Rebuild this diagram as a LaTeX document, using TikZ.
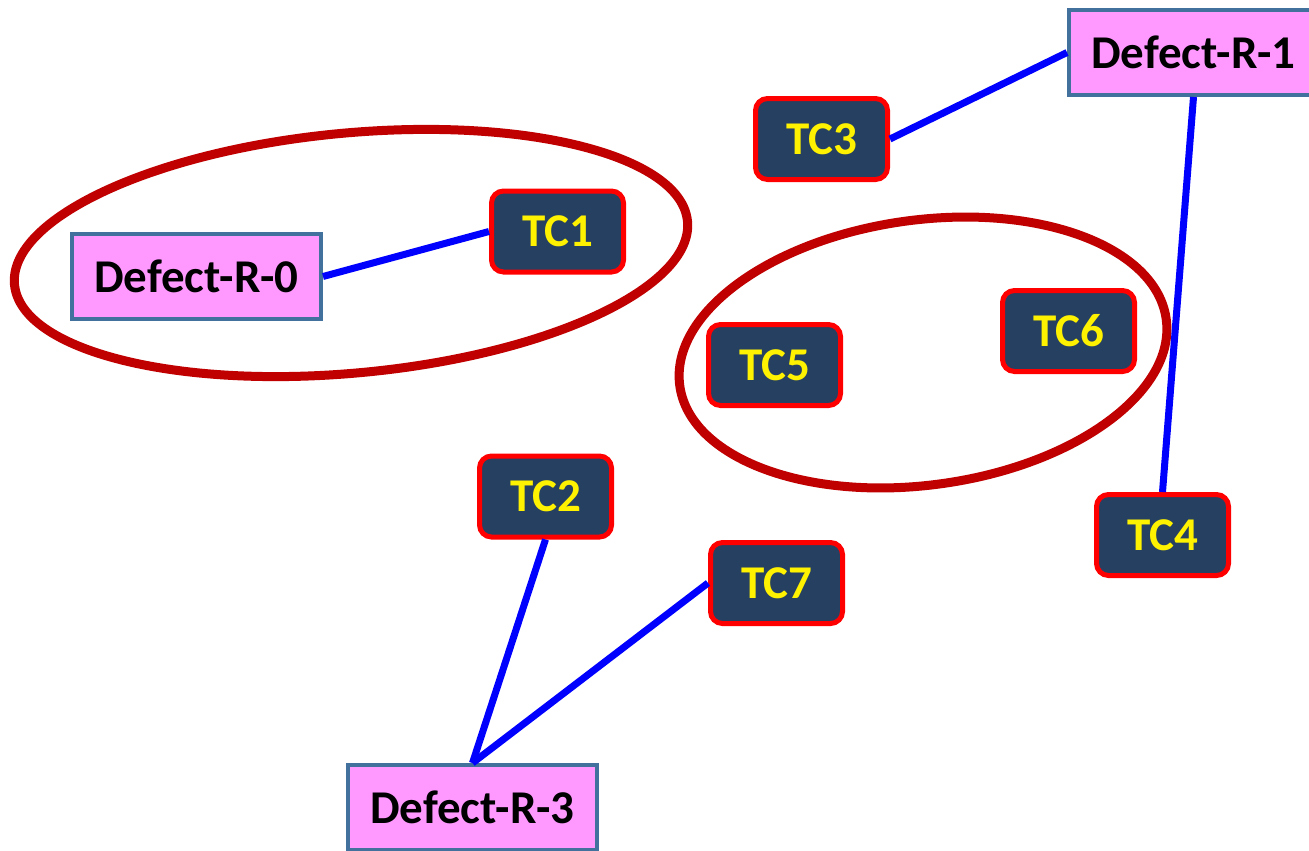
\documentclass[tikz,border=0pt]{standalone}
\usepackage{fontspec}
\setmainfont{Carlito}
\definecolor{pinkfill}{HTML}{FF99FF}
\definecolor{defborder}{HTML}{41719C}
\definecolor{tcfill}{HTML}{264062}
\definecolor{tcborder}{HTML}{FF0000}
\definecolor{ellred}{HTML}{C00000}
\definecolor{linkblue}{HTML}{0000FF}
\begin{document}
\begin{tikzpicture}[x=1pt,y=-1pt,
  defect/.style={draw=defborder,fill=pinkfill,line width=4pt,minimum width=249pt,minimum height=85pt,inner sep=0pt,font=\fontsize{47}{50}\selectfont\bfseries,text=black},
  tc/.style={draw=tcborder,fill=tcfill,line width=5pt,rounded corners=12pt,minimum width=132pt,minimum height=81pt,inner sep=0pt,font=\fontsize{47}{50}\selectfont\bfseries,text=yellow},
  link/.style={draw=linkblue,line width=7pt},
  group/.style={draw=ellred,line width=9pt}]
\useasboundingbox (0,0) rectangle (1309,851);
\draw[group,rotate around={5.36:(351,253)}] (351,253) ellipse [x radius=338, y radius=120];
\draw[group,rotate around={7.8:(923,352.5)}] (923,352.5) ellipse [x radius=245.5, y radius=132.5];
\node[defect] (d0) at (196.5,276.5) {Defect-R-0};
\node[defect] (d1) at (1193.5,52.5) {Defect-R-1};
\node[defect] (d3) at (472.5,807.5) {Defect-R-3};
\node[tc] (tc1) at (557.5,231.5) {TC1};
\node[tc] (tc3) at (821.5,139) {TC3};
\node[tc] (tc5) at (774.5,365) {TC5};
\node[tc] (tc6) at (1068.5,331) {TC6};
\node[tc] (tc2) at (545.5,496.5) {TC2};
\node[tc] (tc7) at (776.5,583) {TC7};
\node[tc] (tc4) at (1162.5,535) {TC4};
\draw[link] (d0.east) -- (tc1.west);
\draw[link] (tc3.east) -- (d1.west);
\draw[link] (d1.south) -- (tc4.north);
\draw[link] (tc2.south) -- (d3.north);
\draw[link] (tc7.west) -- (d3.north);
\end{tikzpicture}
\end{document}
